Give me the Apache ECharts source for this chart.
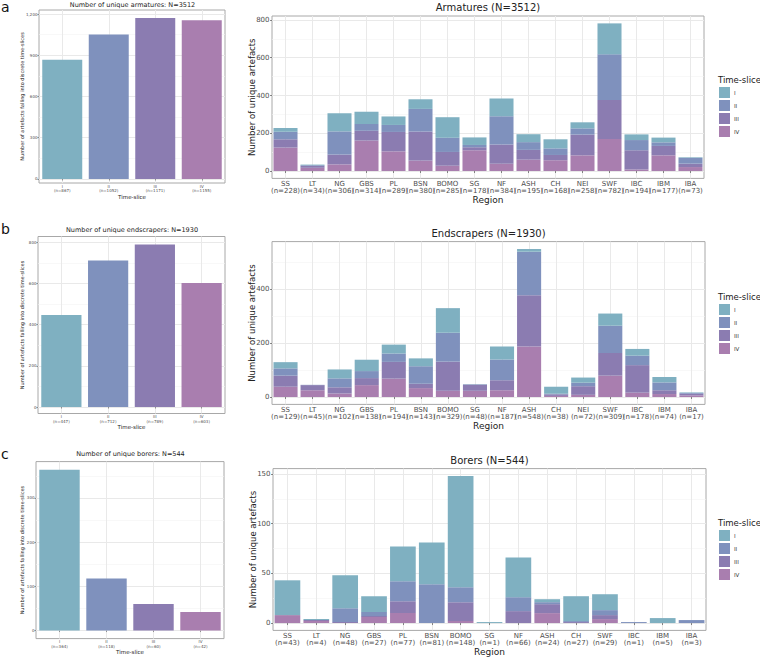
<!DOCTYPE html>
<html><head><meta charset="utf-8">
<script src="https://cdn.jsdelivr.net/npm/echarts@6/dist/echarts.min.js"></script>
<style>html,body{margin:0;padding:0;background:#fff}#c{width:760px;height:658px}</style>
</head><body><div id="c"></div>
<script>
// ---------------- DATA ----------------
const slices = ['I', 'II', 'III', 'IV'];
const regions16 = ['SS','LT','NG','GBS','PL','BSN','BOMO','SG','NF','ASH','CH','NEI','SWF','IBC','IBM','IBA'];
const regions15 = ['SS','LT','NG','GBS','PL','BSN','BOMO','SG','NF','ASH','CH','SWF','IBC','IBM','IBA'];
const uniqueN = [3512, 1930, 544];

// Armatures: artefacts per region in each time-slice
const armI   = [20, 3, 96, 65, 45, 51, 109, 40, 94, 42, 48, 32, 164, 30, 25, 3];
const armII  = [40, 4, 123, 36, 37, 120, 75, 12, 150, 41, 35, 33, 242, 54, 19, 31];
const armIII = [44, 10, 52, 52, 103, 154, 73, 16, 101, 52, 28, 110, 206, 102, 50, 18];
const armIV  = [124, 17, 35, 161, 104, 55, 28, 110, 39, 60, 57, 83, 170, 8, 83, 21];
const armSlices = [867, 1052, 1171, 1155];

// Endscrapers
const endI   = [23, 0, 33, 42, 33, 29, 91, 1, 48, 10, 26, 19, 45, 25, 20, 2];
const endII  = [27, 1, 33, 26, 31, 65, 107, 1, 77, 161, 2, 13, 101, 35, 29, 3];
const endIII = [41, 19, 23, 26, 62, 16, 108, 23, 37, 190, 6, 32, 84, 102, 14, 6];
const endIV  = [38, 25, 13, 44, 68, 33, 23, 23, 25, 187, 4, 8, 79, 16, 11, 6];
const endSlices = [447, 712, 789, 603];

// Borers
const borI   = [35, 1, 33, 16, 35, 42, 112, 1, 40, 3, 25, 16, 0, 5, 0];
const borII  = [0, 0, 14, 4, 20, 39, 15, 0, 14, 2, 1, 5, 1, 0, 3];
const borIII = [0, 1, 1, 1, 12, 0, 19, 0, 12, 9, 1, 4, 0, 0, 0];
const borIV  = [8, 2, 0, 6, 10, 0, 2, 0, 0, 10, 0, 4, 0, 0, 0];
const borSlices = [364, 118, 60, 42];

// axis tick values
const ticksArmL = [0, 300, 600, 900, 1200], minorArmL = [150, 450, 750, 1050];
const ticksEndL = [0, 200, 400, 600, 800], minorEndL = [100, 300, 500, 700];
const ticksBorL = [0, 100, 200, 300], minorBorL = [50, 150, 250, 350];
const ticksArmR = [0, 200, 400, 600, 800], minorArmR = [100, 300, 500, 700];
const ticksEndR = [0, 200, 400], minorEndR = [100, 300, 500];
const ticksBorR = [0, 50, 100, 150], minorBorR = [25, 75, 125];

// ---------------- STYLE / LAYOUT ----------------
const FONT = 'DejaVu Sans';
const COLORS = {I: '#7fb0c1', II: '#7f91bd', III: '#8b7cb1', IV: '#a97eaf'};
const GRID_MAJOR = '#e9e9e9', GRID_MINOR = '#f3f3f3', BORDER = '#a8a8a8', TICKTXT = '#4d4d4d';

const rows = [
  {
    name: 'armatures', title: 'Armatures', leftTitle: 'Number of unique armatures',
    regions: regions16, series: [armI, armII, armIII, armIV], sliceTotals: armSlices,
    ticksL: ticksArmL, minorL: minorArmL, ticksR: ticksArmR, minorR: minorArmR,
    L: {left: 39, top: 10, width: 186, height: 173, lowExp: 0.025, nameGapY: 14.5},
    R: {left: 272, top: 16, width: 432, height: 162.4},
    letterTop: 0, leftTitleTop: 1.5, rightTitleTop: 2, legendTop: 87, legendTitleTop: 75
  },
  {
    name: 'endscrapers', title: 'Endscrapers', leftTitle: 'Number of unique endscrapers',
    regions: regions16, series: [endI, endII, endIII, endIV], sliceTotals: endSlices,
    ticksL: ticksEndL, minorL: minorEndL, ticksR: ticksEndR, minorR: minorEndR,
    L: {left: 38, top: 236.5, width: 187, height: 177, lowExp: 0.04, nameGapY: 13.5},
    R: {left: 272, top: 241.6, width: 433, height: 162.8},
    letterTop: 222, leftTitleTop: 226.7, rightTitleTop: 228, legendTop: 304, legendTitleTop: 292
  },
  {
    name: 'borers', title: 'Borers', leftTitle: 'Number of unique borers',
    regions: regions15, series: [borI, borII, borIII, borIV], sliceTotals: borSlices,
    ticksL: ticksBorL, minorL: minorBorL, ticksR: ticksBorR, minorR: minorBorR,
    L: {left: 36, top: 461.6, width: 188, height: 177, lowExp: 0.05, nameGapY: 11.5},
    R: {left: 273, top: 468.6, width: 433, height: 161.8},
    letterTop: 447, leftTitleTop: 450.7, rightTitleTop: 455, legendTop: 530, legendTitleTop: 518
  }
];

const grids = [], xAxes = [], yAxes = [], series = [], titles = [], legends = [];
const letters = ['a', 'b', 'c'];

rows.forEach((row, r) => {
  const gL = grids.length;
  grids.push({left: row.L.left, top: row.L.top, width: row.L.width, height: row.L.height,
    show: true, borderColor: BORDER, borderWidth: 1, backgroundColor: 'transparent'});
  const gR = grids.length;
  grids.push({left: row.R.left, top: row.R.top, width: row.R.width, height: row.R.height,
    show: true, borderColor: BORDER, borderWidth: 1, backgroundColor: 'transparent'});

  // ---------- left panel ----------
  const maxL = Math.max(...row.sliceTotals);
  const xL = xAxes.length;
  xAxes.push({
    gridIndex: gL, type: 'category', position: 'bottom',
    data: slices.map((s, i) => s + '\n(n=' + row.sliceTotals[i] + ')'),
    axisLine: {show: false},
    axisTick: {show: true, alignWithLabel: true, length: 1.5, lineStyle: {color: '#555', width: 0.6}},
    axisLabel: {fontSize: 4, lineHeight: 4.6, color: TICKTXT, margin: 0.8, fontFamily: FONT},
    splitLine: {show: true, alignWithLabel: true, lineStyle: {color: GRID_MAJOR, width: 1}},
    name: 'Time-slice', nameLocation: 'middle', nameGap: 10.5, nameMoveOverlap: false,
    nameTextStyle: {fontSize: 5.5, color: '#222', fontFamily: FONT}
  });
  yAxes.push({
    gridIndex: gL, type: 'value', position: 'left', offset: 0,
    min: -row.L.lowExp * maxL, max: 1.05 * maxL,
    axisLine: {show: false}, axisLabel: {show: false},
    axisTick: {show: false, customValues: row.minorL},
    splitLine: {show: true, lineStyle: {color: GRID_MINOR, width: 0.6}}
  });
  const yL = yAxes.length;
  yAxes.push({
    gridIndex: gL, type: 'value', position: 'left', offset: 0,
    min: -row.L.lowExp * maxL, max: 1.05 * maxL,
    axisLine: {show: false},
    axisTick: {show: true, length: 1.5, customValues: row.ticksL, lineStyle: {color: '#555', width: 0.6}},
    axisLabel: {customValues: row.ticksL, fontSize: 4, color: TICKTXT, margin: 1.5, fontFamily: FONT},
    splitLine: {show: true, lineStyle: {color: GRID_MAJOR, width: 1}},
    name: 'Number of artefacts falling into discrete time-slices',
    nameLocation: 'middle', nameRotate: 90, nameGap: row.L.nameGapY, nameMoveOverlap: false,
    nameTextStyle: {fontSize: 5, color: '#222', fontFamily: FONT}
  });
  series.push({
    type: 'bar', name: row.name + ' per time-slice', xAxisIndex: xL, yAxisIndex: yL,
    barCategoryGap: '14%',
    data: row.sliceTotals.map((v, i) => ({value: v, itemStyle: {color: COLORS[slices[i]]}})),
    silent: true
  });

  // ---------- right panel ----------
  const totals = row.regions.map((_, i) => row.series.reduce((a, s) => a + s[i], 0));
  const maxR = Math.max(...totals);
  const xR = xAxes.length;
  xAxes.push({
    gridIndex: gR, type: 'category', position: 'bottom',
    data: row.regions.map((reg, i) => reg + '\n(n=' + totals[i] + ')'),
    axisLine: {show: false},
    axisTick: {show: true, alignWithLabel: true, length: 2, lineStyle: {color: '#555', width: 0.7}},
    axisLabel: {fontSize: 7, lineHeight: 7.6, color: TICKTXT, margin: 1.5, interval: 0, fontFamily: FONT},
    splitLine: {show: true, alignWithLabel: true, lineStyle: {color: GRID_MAJOR, width: 1}},
    name: 'Region', nameLocation: 'middle', nameGap: 17.5, nameMoveOverlap: false,
    nameTextStyle: {fontSize: 9, color: '#222', fontFamily: FONT}
  });
  yAxes.push({
    gridIndex: gR, type: 'value', position: 'left', offset: 0,
    min: -0.05 * maxR, max: 1.05 * maxR,
    axisLine: {show: false}, axisLabel: {show: false},
    axisTick: {show: false, customValues: row.minorR},
    splitLine: {show: true, lineStyle: {color: GRID_MINOR, width: 0.6}}
  });
  const yR = yAxes.length;
  yAxes.push({
    gridIndex: gR, type: 'value', position: 'left', offset: 0,
    min: -0.05 * maxR, max: 1.05 * maxR,
    axisLine: {show: false},
    axisTick: {show: true, length: 2, customValues: row.ticksR, lineStyle: {color: '#555', width: 0.7}},
    axisLabel: {customValues: row.ticksR, fontSize: 7, color: TICKTXT, margin: 2.5, fontFamily: FONT},
    splitLine: {show: true, lineStyle: {color: GRID_MAJOR, width: 1}},
    name: 'Number of unique artefacts', nameLocation: 'middle', nameRotate: 90, nameGap: 16,
    nameMoveOverlap: false,
    nameTextStyle: {fontSize: 8.5, color: '#222', fontFamily: FONT}
  });
  // stack from IV (bottom) to I (top)
  [3, 2, 1, 0].forEach(k => {
    series.push({
      type: 'bar', name: slices[k], stack: 'st' + r, xAxisIndex: xR, yAxisIndex: yR,
      barCategoryGap: '11%', itemStyle: {color: COLORS[slices[k]]},
      data: row.series[k], silent: true
    });
  });

  // ---------- texts ----------
  titles.push({text: letters[r], left: 1, top: row.letterTop, padding: 0,
    textStyle: {fontSize: 14, fontWeight: 'normal', color: '#111', fontFamily: FONT}});
  titles.push({text: row.leftTitle + ': N=' + uniqueN[r], left: row.L.left + row.L.width / 2 + 0.5,
    top: row.leftTitleTop, textAlign: 'center', padding: 0,
    textStyle: {fontSize: 6.5, fontWeight: 'normal', color: '#222', fontFamily: FONT}});
  titles.push({text: row.title + ' (N=' + uniqueN[r] + ')', left: row.R.left + row.R.width / 2,
    top: row.rightTitleTop, textAlign: 'center', padding: 0,
    textStyle: {fontSize: 10, fontWeight: 'normal', color: '#222', fontFamily: FONT}});
  titles.push({text: 'Time-slice', left: 718, top: row.legendTitleTop, padding: 0,
    textStyle: {fontSize: 8.5, fontWeight: 'normal', color: '#222', fontFamily: FONT}});
  legends.push({
    data: slices, orient: 'vertical', left: 719, top: row.legendTop, padding: 0,
    itemWidth: 11, itemHeight: 11, itemGap: 2, icon: 'rect', selectedMode: false,
    textStyle: {fontSize: 5.5, color: '#333', fontFamily: FONT, padding: [0, 0, 0, -1]}
  });
});

const chart = echarts.init(document.getElementById('c'), null, {renderer: 'svg'});
chart.setOption({
  animation: false,
  backgroundColor: '#ffffff',
  textStyle: {fontFamily: FONT},
  title: titles,
  legend: legends,
  grid: grids,
  xAxis: xAxes,
  yAxis: yAxes,
  series: series
});
</script>
</body></html>
